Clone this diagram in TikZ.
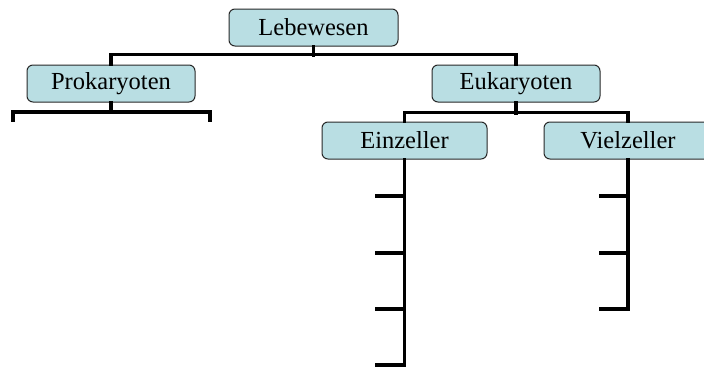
\documentclass[tikz,border=0pt]{standalone}
\usepackage{fontspec}
\setmainfont{Liberation Serif}
\definecolor{boxfill}{RGB}{185,222,227}
\definecolor{boxline}{RGB}{40,40,40}
\begin{document}
\begin{tikzpicture}[x=1pt,y=-1pt,
  taxbox/.style={draw=boxline,line width=1pt,fill=boxfill,rounded corners=6pt,
    minimum height=37pt,inner sep=0pt,font=\fontsize{24.5}{27}\selectfont},
  branch/.style={line width=3.8pt,line cap=rect,line join=miter}]
\clip (0,0) rectangle (704,370);
\fill[white] (0,0) rectangle (704,370);
\node[taxbox,minimum width=169pt] (leb) at (313.5,27.5) {Lebewesen};
\node[taxbox,minimum width=168pt] (pro) at (111,83.5) {Prokaryoten};
\node[taxbox,minimum width=168pt] (euk) at (516,83.5) {Eukaryoten};
\node[taxbox,minimum width=165pt] (ein) at (404.5,140.5) {Einzeller};
\node[taxbox,minimum width=168pt] (vie) at (628,140.5) {Vielzeller};
% connectors
\draw[branch] (leb.south) -- ++(0,9);
\draw[branch] (pro.north) -- ++(0,-10) -| (euk.north);
\draw[branch] (euk.south) -- ++(0,11);
\draw[branch] (ein.north) -- ++(0,-9) -| (vie.north);
% Prokaryoten bracket
\coordinate (pl) at (13,120);
\coordinate (pr) at (210,120);
\draw[branch] (pro.south) -- ++(0,10);
\draw[branch] (pl) -- ++(0,-8) -- ++(197,0) -- (pr);
% Einzeller ladder
\coordinate (e1) at (377,196);
\coordinate (e2) at (377,253);
\coordinate (e3) at (377,309);
\coordinate (e4) at (377,365);
\draw[branch] (ein.south) |- (e4);
\draw[branch] (e1) -- (404.5,196);
\draw[branch] (e2) -- (404.5,253);
\draw[branch] (e3) -- (404.5,309);
% Vielzeller ladder
\coordinate (v1) at (601,196);
\coordinate (v2) at (601,253);
\coordinate (v3) at (601,309);
\draw[branch] (vie.south) |- (v3);
\draw[branch] (v1) -- (628,196);
\draw[branch] (v2) -- (628,253);
\end{tikzpicture}
\end{document}
